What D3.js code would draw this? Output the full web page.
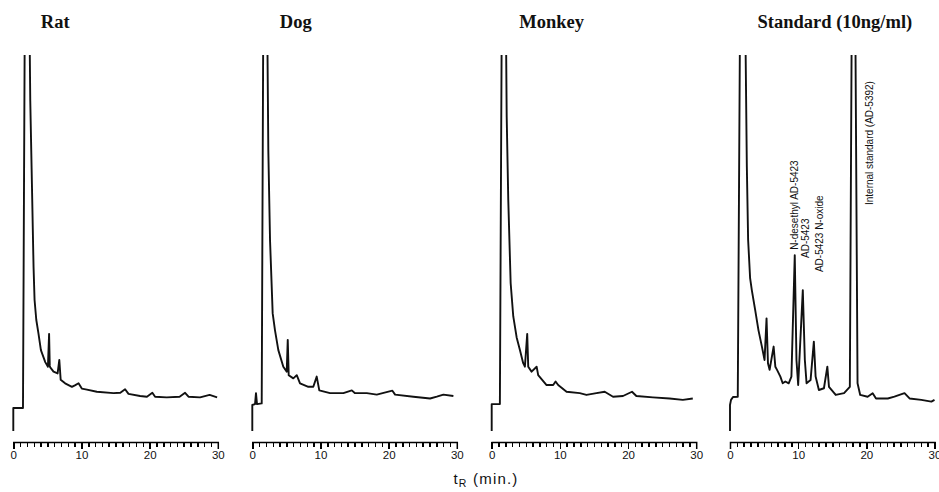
<!DOCTYPE html>
<html>
<head>
<meta charset="utf-8">
<script src="https://cdn.jsdelivr.net/npm/d3@7"></script>
<style>
  body { margin: 0; background: #fff; }
  svg { display: block; }
</style>
</head>
<body>
<svg id="chart" width="939" height="492"></svg>
<script>
// panel titles
const panelTitles = ["Rat", "Dog", "Monkey", "Standard (10ng/ml)"];

// detector traces, [time (min), signal]
const ratTrace = [
    [0, -6.5], [0, 0], [1.42, 0], [1.9, 200], [2.49, 87], [2.74, 62.6], [2.97, 40], [3.12, 30.6],
    [3.37, 25], [3.7, 21], [4.05, 16.4], [4.69, 13], [5.08, 11.7], [5.25, 21], [5.35, 12], [5.42, 11.5],
    [5.9, 10.3], [6.5, 9.8], [6.75, 13.6], [6.95, 8], [7.6, 7], [8.6, 6], [9.1, 6.5], [9.57, 7],
    [10.05, 5.5], [10.8, 5.2], [12.25, 4.6], [14.7, 4.2], [15.7, 4.3], [16.4, 5.3], [16.9, 4],
    [18.6, 3.4], [19.6, 3.2], [20.4, 4.3], [20.8, 3.2], [22.5, 3], [24.4, 3.2], [25.2, 4.3],
    [25.7, 3.2], [27.4, 3], [28.8, 3.7], [29.9, 3]
];
const dogTrace = [
    [0, -6.5], [0, 0.85], [0.4, 1.1], [0.54, 4.2], [0.69, 1.1], [1.38, 1.3], [1.8, 200], [2.35, 73],
    [2.6, 47.6], [2.99, 26.8], [3.33, 22], [3.82, 16.4], [4.55, 11.7], [5.05, 10.3], [5.2, 19.3],
    [5.34, 9.3], [6.02, 8.4], [6.52, 9.3], [7.0, 7], [8.22, 6], [8.95, 6], [9.45, 8.9], [9.83, 5],
    [11.4, 4.2], [13.36, 4.2], [14.6, 5], [15.07, 4.2], [16.8, 4.2], [18.26, 3.8], [20.55, 4.9],
    [20.95, 3.8], [23.63, 3.2], [26.08, 2.7], [27.07, 3.2], [28.03, 3.8], [29.5, 3.4]
];
const monkeyTrace = [
    [0, -6.5], [0, 1.1], [1.2, 1.1], [1.7, 200], [2.2, 82.5], [2.43, 59], [2.78, 35.4], [3.16, 26],
    [3.66, 20], [4.14, 16.4], [4.62, 12.7], [4.87, 11.7], [5.21, 21], [5.36, 11.7], [5.85, 10.3],
    [6.59, 11.7], [6.82, 9.3], [8.05, 6.5], [9.02, 6.5], [9.37, 7.5], [9.75, 6.5], [10.98, 4.6],
    [12.92, 4.2], [13.9, 3.7], [15.37, 4.2], [16.58, 4.6], [17.8, 3.2], [19.26, 3.4], [20.58, 4.6],
    [21.22, 3.4], [23.65, 3], [26.1, 2.7], [28.04, 2.3], [29.5, 2.7]
];
const standardTrace = [
    [0, -6.5], [0, 0.85], [0.15, 2.3], [0.44, 3.1], [1.14, 3.2], [1.75, 200], [2.47, 68.4],
    [2.66, 47.6], [2.95, 36.8], [3.2, 33.4], [3.69, 27.8], [4.18, 22], [4.68, 17.4], [5.07, 13.6],
    [5.36, 25.4], [5.57, 12.7], [5.81, 10.8], [6.4, 17.4], [6.65, 11.7], [6.9, 10.8], [7.39, 8.9],
    [7.73, 7], [8.12, 7.5], [8.61, 7], [9.01, 8.9], [9.5, 43.3], [9.75, 13.6], [10.0, 6.5],
    [10.68, 33.4], [10.98, 13.6], [11.23, 7], [11.82, 7.9], [12.3, 18.8], [12.56, 8.9], [13.04, 5.1],
    [13.78, 5.6], [14.28, 11.7], [14.52, 6], [15.51, 3.7], [16.73, 4.2], [17.58, 6], [18.1, 200],
    [18.71, 7], [19.1, 3.7], [20.19, 3.2], [20.93, 4.2], [21.42, 2.7], [23.15, 2.7], [24.12, 3.2],
    [25.6, 4.2], [26.34, 2.7], [28.07, 2.3], [29.54, 1.8], [30, 2.3]
];
const traces = [ratTrace, dogTrace, monkeyTrace, standardTrace];

// peak names in the standard run: label start (time, signal)
const peakLabels = [
    { text: "N-desethyl AD-5423", t: 9.97, v: 44.8 },
    { text: "AD-5423", t: 11.52, v: 42.5 },
    { text: "AD-5423 N-oxide", t: 13.59, v: 38.5 },
    { text: "Internal standard (AD-5392)", t: 21.0, v: 57.5 }
];

const majorTicks = [0, 10, 20, 30];
const minuteTicks = d3.range(0, 31);

// layout
const panelLeft = [13.3, 252.3, 491.7, 730];
const panelWidth = 204.5;
const plotTop = 55;
const baseY = 408;
const axisY = 441.7;

const svg = d3.select("#chart");

const x = d3.scaleLinear().domain([0, 30]).range([0, panelWidth]);
const y = d3.scaleLinear().domain([0, 100]).range([baseY, plotTop]);

const line = d3.line()
    .x(d => x(d[0]))
    .y(d => y(d[1]));

traces.forEach(function(trace, i) {
    const g = svg.append("g").attr("transform", `translate(${panelLeft[i]},0)`);

    // keep the big peaks inside the frame, they run off the top
    svg.append("clipPath")
        .attr("id", "clip" + i)
        .append("rect")
        .attr("x", -5)
        .attr("y", plotTop)
        .attr("width", panelWidth + 15)
        .attr("height", axisY - plotTop - 8);

    g.append("text")
        .attr("x", 27.5)
        .attr("y", 28.3)
        .attr("font-family", "'Liberation Serif', 'Times New Roman', serif")
        .attr("font-weight", "bold")
        .attr("font-size", 18.5)
        .attr("fill", "#111")
        .text(panelTitles[i]);

    g.append("path")
        .datum(trace)
        .attr("clip-path", `url(#clip${i})`)
        .attr("d", line)
        .attr("fill", "none")
        .attr("stroke", "#111")
        .attr("stroke-width", 1.9)
        .attr("stroke-linejoin", "round");

    // one tick per minute, longer ones with numbers every 10
    const axis = g.append("g")
        .attr("transform", `translate(0,${Math.round(axisY)})`)
        .call(d3.axisBottom(x)
            .tickValues(minuteTicks)
            .tickSize(5)
            .tickSizeOuter(7)
            .tickPadding(4)
            .tickFormat(d => majorTicks.includes(d) ? d : ""));

    axis.selectAll(".domain")
        .attr("stroke", "#000")
        .attr("stroke-width", 1.5);
    axis.selectAll(".tick line")
        .attr("stroke", "#000")
        .attr("stroke-width", 1.5)
        .attr("shape-rendering", "crispEdges")
        .attr("y2", d => majorTicks.includes(d) ? 7 : 5);
    axis.selectAll(".tick text")
        .attr("font-family", "'Liberation Sans', Arial, sans-serif")
        .attr("font-size", 11.5)
        .attr("fill", "#111");

    if (i === 3) {
        g.selectAll(".peak-label")
            .data(peakLabels)
            .enter()
            .append("text")
            .attr("class", "peak-label")
            .attr("transform", d => `translate(${x(d.t)},${y(d.v)}) rotate(-90)`)
            .attr("font-family", "'Liberation Sans', Arial, sans-serif")
            .attr("font-size", 10)
            .attr("fill", "#111")
            .text(d => d.text);
    }
});

// shared time axis title
const xTitle = svg.append("text")
    .attr("x", 486)
    .attr("y", 484)
    .attr("text-anchor", "middle")
    .attr("font-family", "'Liberation Sans', Arial, sans-serif")
    .attr("font-size", 15)
    .attr("letter-spacing", 1.2)
    .attr("fill", "#111");
xTitle.append("tspan").text("t");
xTitle.append("tspan").attr("font-size", 10.5).attr("dy", 3).text("R");
xTitle.append("tspan").attr("dy", -3).text(" (min.)");
</script>
</body>
</html>
